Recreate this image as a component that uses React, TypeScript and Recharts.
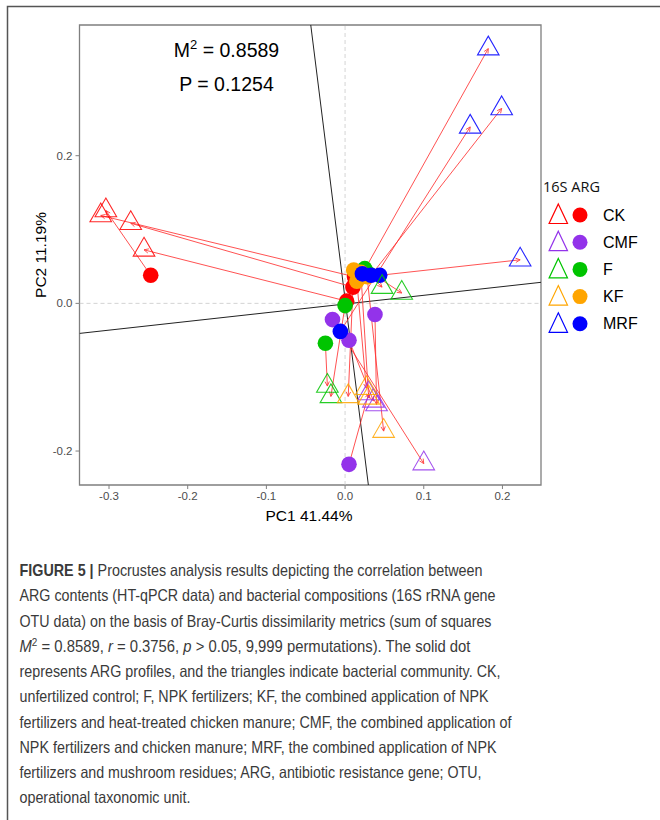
import React from 'react';
import { ScatterChart, Scatter, XAxis, YAxis, ReferenceLine, ReferenceArea } from 'recharts';

type Pt = [number, number];

// ARG profiles (solid dots) and 16S communities (triangles), paired by index
const ckArg: Pt[] = [[-0.247, 0.038], [0.012, 0.036], [0.010, 0.022], [0.002, 0.003]];
const ckBac: Pt[] = [[-0.304, 0.1257], [-0.3105, 0.119], [-0.2724, 0.1085], [-0.2555, 0.0725]];
const cmfArg: Pt[] = [[-0.016, -0.022], [0.038, -0.015], [0.005, -0.05], [0.005, -0.218]];
const cmfBac: Pt[] = [[0.1, -0.217], [0.04, -0.137], [0.036, -0.132], [0.03, -0.122]];
const fArg: Pt[] = [[-0.025, -0.054], [0.0, -0.003], [0.025, 0.047], [0.03, 0.04]];
const fBac: Pt[] = [[-0.0225, -0.112], [-0.018, -0.126], [0.072, 0.014], [0.047, 0.022]];
const kfArg: Pt[] = [[0.011, 0.045], [0.015, 0.03], [0.02, 0.042], [0.028, 0.036]];
const kfBac: Pt[] = [[0.004, -0.126], [0.027, -0.115], [0.03, -0.128], [0.049, -0.173]];
const mrfArg: Pt[] = [[0.044, 0.038], [0.033, 0.038], [0.022, 0.04], [-0.006, -0.038]];
const mrfBac: Pt[] = [[0.2225, 0.059], [0.199, 0.264], [0.182, 0.345], [0.159, 0.239]];

const groupNames = ['CK', 'CMF', 'F', 'KF', 'MRF'];
const groupColors = ['#FF0000', '#9333EA', '#00C400', '#FFA500', '#0000FF'];
const argSets = [ckArg, cmfArg, fArg, kfArg, mrfArg];
const bacSets = [ckBac, cmfBac, fBac, kfBac, mrfBac];

// rotation axes of the procrustes fit
const rotAxis1: Pt[] = [[-0.0436, 0.377], [0.0296, -0.246]];
const rotAxis2: Pt[] = [[-0.3375, -0.0407], [0.249, 0.0285]];

const xDomain: Pt = [-0.3375, 0.249];
const yDomain: Pt = [-0.246, 0.377];
const xTicks = [-0.3, -0.2, -0.1, 0, 0.1, 0.2];
const yTicks = [-0.2, 0, 0.2];

type Part = { t: string; b?: boolean; i?: boolean; dy?: number; fs?: number };

const captionLines: { w: number; parts: Part[] }[] = [
  { w: 463, parts: [{ t: 'FIGURE 5 |', b: true }, { t: ' Procrustes analysis results depicting the correlation between' }] },
  { w: 476, parts: [{ t: 'ARG contents (HT-qPCR data) and bacterial compositions (16S rRNA gene' }] },
  { w: 472, parts: [{ t: 'OTU data) on the basis of Bray-Curtis dissimilarity metrics (sum of squares' }] },
  {
    w: 451,
    parts: [
      { t: 'M', i: true }, { t: '2', dy: -6, fs: 11 }, { t: ' = 0.8589, ', dy: 6 }, { t: 'r', i: true },
      { t: ' = 0.3756, ' }, { t: 'p', i: true }, { t: ' > 0.05, 9,999 permutations). The solid dot' },
    ],
  },
  { w: 481, parts: [{ t: 'represents ARG profiles, and the triangles indicate bacterial community. CK,' }] },
  { w: 469, parts: [{ t: 'unfertilized control; F, NPK fertilizers; KF, the combined application of NPK' }] },
  { w: 492, parts: [{ t: 'fertilizers and heat-treated chicken manure; CMF, the combined application of' }] },
  { w: 477, parts: [{ t: 'NPK fertilizers and chicken manure; MRF, the combined application of NPK' }] },
  { w: 462, parts: [{ t: 'fertilizers and mushroom residues; ARG, antibiotic resistance gene; OTU,' }] },
  { w: 171, parts: [{ t: 'operational taxonomic unit.' }] },
];

const toRows = (pts: Pt[]) => pts.map(([x, y]) => ({ x, y }));

const triPath = (cx: number, cy: number) =>
  `M${cx},${cy - 12.5} L${cx + 10.8},${cy + 6.25} L${cx - 10.8},${cy + 6.25} Z`;

const Arrow = (p: any) => {
  const { x1, y1, x2, y2 } = p;
  const a = Math.atan2(y2 - y1, x2 - x1);
  const len = 5;
  const s = 0.45;
  const h1x = x2 - len * Math.cos(a - s);
  const h1y = y2 - len * Math.sin(a - s);
  const h2x = x2 - len * Math.cos(a + s);
  const h2y = y2 - len * Math.sin(a + s);
  return (
    <g stroke="#FF2A2A" strokeWidth={0.9} fill="none" opacity={0.9}>
      <line x1={x1} y1={y1} x2={x2} y2={y2} />
      <path d={`M${h1x},${h1y} L${x2},${y2} L${h2x},${h2y}`} />
    </g>
  );
};

const tickStyle = { fontSize: 11.5, fill: '#4D4D4D', fontFamily: 'Liberation Sans, Arial, sans-serif' };

export default function App() {
  return (
    <div style={{ position: 'absolute', left: 0, top: 0, width: 660, height: 820, background: '#fff' }}>
      <ScatterChart width={660} height={530} margin={{ top: 25, right: 119, bottom: 15, left: 29.5 }}>
        <XAxis
          type="number"
          dataKey="x"
          domain={xDomain}
          allowDataOverflow
          ticks={xTicks}
          tickFormatter={(v: number) => v.toFixed(1)}
          tick={tickStyle}
          axisLine={false}
          tickLine={{ stroke: '#808080' }}
          tickSize={4}
          tickMargin={3}
          height={30}
        />
        <YAxis
          type="number"
          dataKey="y"
          domain={yDomain}
          allowDataOverflow
          ticks={yTicks}
          tickFormatter={(v: number) => v.toFixed(1)}
          tick={tickStyle}
          axisLine={false}
          tickLine={{ stroke: '#808080' }}
          tickSize={4}
          tickMargin={3}
          width={50}
        />
        <ReferenceLine x={0} stroke="#C8C8C8" strokeDasharray="4 3" strokeWidth={0.8} />
        <ReferenceLine y={0} stroke="#C8C8C8" strokeDasharray="4 3" strokeWidth={0.8} />
        <ReferenceLine
          segment={rotAxis1.map(([x, y]) => ({ x, y }))}
          ifOverflow="hidden"
          stroke="#222"
          strokeWidth={1}
        />
        <ReferenceLine
          segment={rotAxis2.map(([x, y]) => ({ x, y }))}
          ifOverflow="hidden"
          stroke="#222"
          strokeWidth={1}
        />
        {argSets.map((pts, g) => (
          <Scatter
            key={'arg' + g}
            data={toRows(pts)}
            isAnimationActive={false}
            shape={(p: any) => <circle cx={p.cx} cy={p.cy} r={7.8} fill={groupColors[g]} />}
          />
        ))}
        {bacSets.map((pts, g) => (
          <Scatter
            key={'bac' + g}
            data={toRows(pts)}
            isAnimationActive={false}
            shape={(p: any) => (
              <path d={triPath(p.cx, p.cy)} fill="none" stroke={groupColors[g]} strokeWidth={1.1} opacity={0.85} />
            )}
          />
        ))}
        {argSets.map((pts, g) =>
          pts.map(([x, y], i) => (
            <ReferenceLine
              key={`arr${g}-${i}`}
              segment={[{ x, y }, { x: bacSets[g][i][0], y: bacSets[g][i][1] }]}
              ifOverflow="visible"
              shape={Arrow}
            />
          ))
        )}
        <ReferenceArea
          x1={xDomain[0]}
          x2={xDomain[1]}
          y1={yDomain[0]}
          y2={yDomain[1]}
          fill="none"
          stroke="#7F7F7F"
          strokeWidth={1.3}
          ifOverflow="visible"
        />
      </ScatterChart>

      <svg
        width={660}
        height={820}
        style={{ position: 'absolute', left: 0, top: 0, pointerEvents: 'none' }}
        fontFamily="Liberation Sans, Arial, sans-serif"
      >
        <path d="M7.5,820 L7.5,6.5 L660,6.5" fill="none" stroke="#555" strokeWidth={1.5} />

        <text x={226.5} y={57} textAnchor="middle" fontSize={19.5} fill="#000">
          M<tspan dy={-8} fontSize={13}>2</tspan>
          <tspan dy={8}> = 0.8589</tspan>
        </text>
        <text x={226.5} y={91} textAnchor="middle" fontSize={19.5} fill="#000">
          P = 0.1254
        </text>

        <text x={309} y={521} textAnchor="middle" fontSize={15.5} fill="#000">
          PC1 41.44%
        </text>
        <text
          x={40}
          y={255}
          textAnchor="middle"
          dominantBaseline="central"
          fontSize={15.5}
          fill="#000"
          transform="rotate(-90, 40, 255)"
        >
          PC2 11.19%
        </text>

        <text x={543} y={192} fontSize={14.5} fill="#111" fontFamily="Open Sans, Liberation Sans, sans-serif">
          16S ARG
        </text>
        {groupNames.map((name, g) => {
          const cy = 214 + g * 27.2;
          return (
            <g key={name}>
              <path
                d={`M558.3,${cy - 10} L567.5,${cy + 9.5} L549.1,${cy + 9.5} Z`}
                fill="none"
                stroke={groupColors[g]}
                strokeWidth={1.2}
              />
              <circle cx={580} cy={cy + 1} r={7.5} fill={groupColors[g]} />
              <text x={603} y={cy + 6.5} fontSize={16} fill="#000">
                {name}
              </text>
            </g>
          );
        })}

        {captionLines.map((line, i) => (
          <text
            key={i}
            x={19.5}
            y={576 + i * 25.25}
            fontSize={16.5}
            fill="#3A3A3A"
            textLength={line.w}
            lengthAdjust="spacingAndGlyphs"
          >
            {line.parts.map((p, j) => (
              <tspan
                key={j}
                dy={p.dy}
                fontSize={p.fs}
                fontWeight={p.b ? 700 : 400}
                fontStyle={p.i ? 'italic' : 'normal'}
              >
                {p.t}
              </tspan>
            ))}
          </text>
        ))}
      </svg>
    </div>
  );
}
